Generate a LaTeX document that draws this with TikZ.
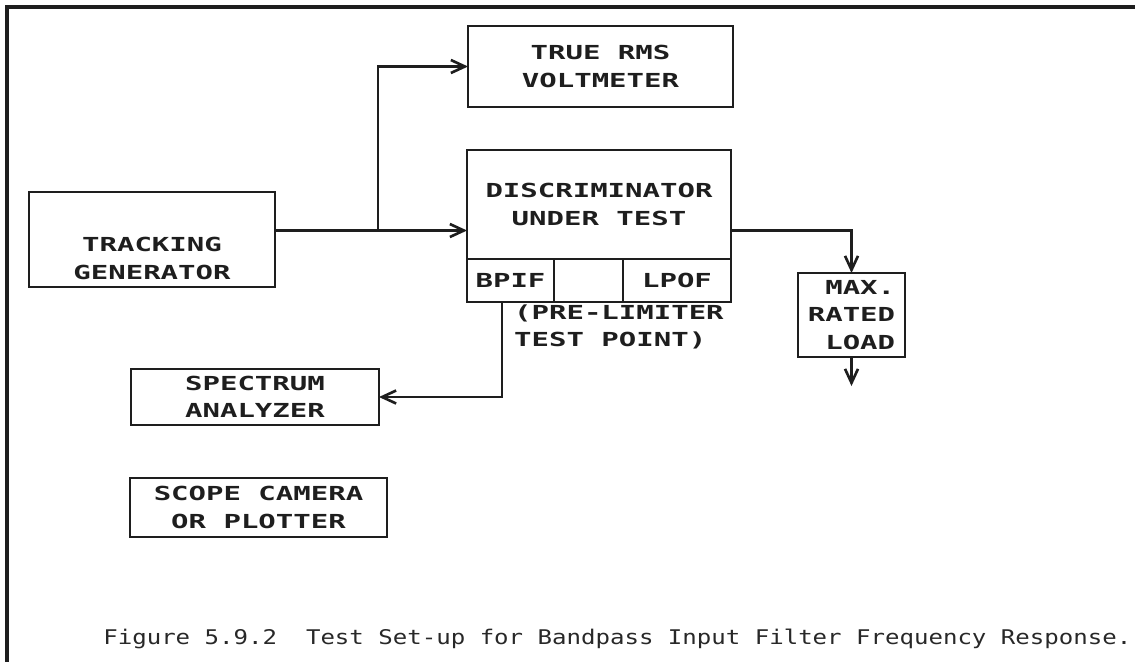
\documentclass[tikz,border=0pt]{standalone}
\usepackage{fontspec}
\usetikzlibrary{arrows.meta,positioning}
\newfontfamily\boxfont{DejaVu Sans Mono}[FakeStretch=1.5]
\newfontfamily\capfont{DejaVu Sans Mono}[FakeStretch=1.19]
\definecolor{inkblack}{RGB}{30,30,30}
\definecolor{captiongray}{RGB}{40,40,40}

\begin{document}
\begin{tikzpicture}[
  boxtext/.style={align=center, text=inkblack, font=\boxfont\bfseries\fontsize{11}{15.5}\selectfont},
  box/.style={boxtext, draw=inkblack, line width=1.5pt, outer sep=0pt, inner sep=1pt},
  cell/.style={box, minimum height=0.86cm},
  sig/.style={draw=inkblack, line width=1.5pt},
  sigarrow/.style={sig, -{Straight Barb[length=2.8mm,width=2.6mm]}}
]
\useasboundingbox (0,0) rectangle (22.7,-13.24);
\draw[line width=2.2pt, inkblack] (22.7,-0.14) -- (0.14,-0.14) -- (0.14,-13.24);

\node[box, minimum width=4.92cm, minimum height=1.90cm, label={[boxtext, yshift=-0.38cm]center:TRACKING\\GENERATOR}] (tg) at (3.04,-4.79) {};
\node[box, minimum width=5.30cm, minimum height=1.62cm] (rms) at (12.01,-1.33) {TRUE RMS\\VOLTMETER};
\node[box, minimum width=5.28cm, minimum height=2.18cm] (disc) at (11.98,-4.09) {DISCRIMINATOR\\UNDER TEST};
\node[cell, minimum width=1.74cm, anchor=north west] (bpif) at (disc.south west) {BPIF};
\node[cell, minimum width=1.38cm, right=0pt of bpif] (blank) {};
\node[cell, minimum width=2.16cm, right=0pt of blank] (lpof) {LPOF};
\node[boxtext, align=left, anchor=west] (tp) at (10.16,-6.54) {(PRE-LIMITER\\TEST POINT)};
\node[box, minimum width=2.14cm, minimum height=1.68cm, align=right] (load) at (17.03,-6.30) {MAX.\\RATED\\LOAD};
\node[box, minimum width=4.96cm, minimum height=1.12cm] (sa) at (5.10,-7.94) {SPECTRUM\\ANALYZER};
\node[box, minimum width=5.14cm, minimum height=1.18cm] (sc) at (5.17,-10.15) {SCOPE CAMERA\\OR PLOTTER};

\coordinate (split) at (7.56,-4.61);
\coordinate (gnd) at (17.03,-7.72);
\draw[sig] (tg.east |- split) -- (split);
\draw[sigarrow] (split) |- (rms.west);
\draw[sigarrow] (split) -- (split -| disc.west);
\draw[sigarrow] (disc.east |- split) -| (load.north);
\draw[sigarrow] ([xshift=-0.17cm]bpif.south) |- (sa.east);
\draw[sigarrow] (load.south) -- (gnd);

\node[anchor=base west, inner sep=0pt, text=captiongray, font=\capfont\fontsize{11.5}{14}\selectfont] (caption) at (2.06,-12.88) {Figure 5.9.2\ \ Test Set-up for Bandpass Input Filter Frequency Response.};
\end{tikzpicture}
\end{document}
